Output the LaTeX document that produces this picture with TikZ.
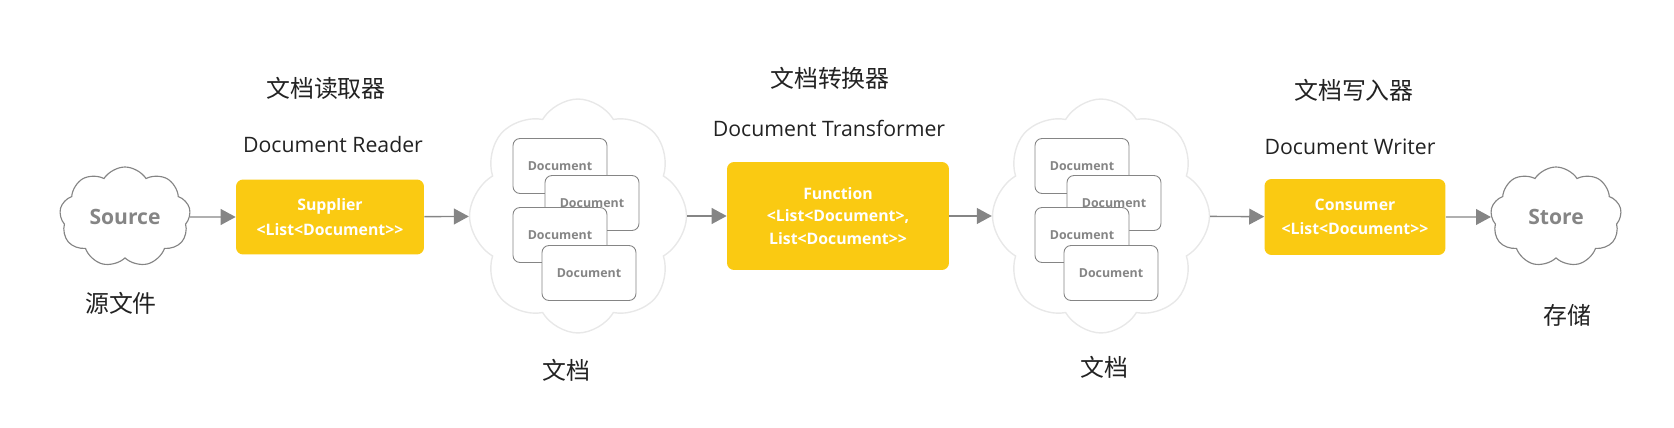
\documentclass[tikz,border=0pt]{standalone}
\usepackage{fontspec}
\setmainfont{Open Sans}
\newfontfamily\cjkfont{Noto Sans CJK SC}
\usetikzlibrary{shapes.symbols,arrows.meta}
\definecolor{flowyellow}{HTML}{FACA12}
\definecolor{flowgray}{HTML}{858585}
\definecolor{cloudpale}{HTML}{E8E8E8}
\definecolor{labeldark}{HTML}{222222}

\begin{document}
\begin{tikzpicture}[
    x=0.02cm, y=-0.02cm,
    stage/.style={fill=flowyellow, rounded corners=4pt, inner sep=0pt, align=center,
      text=white, font=\fontsize{9}{14}\selectfont\bfseries},
    doc/.style={draw=flowgray, fill=white, line width=0.5pt, rounded corners=4pt, inner sep=0pt,
      minimum width=1.88cm, minimum height=1.1cm, text=flowgray,
      font=\fontsize{7.05}{9}\selectfont\bfseries},
    smallcloud/.style={cloud, cloud puffs=9, cloud puff arc=115, cloud ignores aspect, draw=flowgray, line width=0.65pt,
      inner sep=0pt, minimum width=2.62cm, minimum height=2cm, text=flowgray,
      font=\fontsize{12}{13}\selectfont\bfseries},
    bigcloud/.style={cloud, cloud puffs=8, cloud puff arc=120, cloud ignores aspect, draw=cloudpale, line width=0.8pt,
      inner sep=0pt, minimum width=4.34cm, minimum height=4.68cm},
    zh/.style={text=labeldark, font=\fontsize{13.6}{15}\cjkfont},
    en/.style={text=labeldark, font=\fontsize{12.1}{14}\selectfont},
    flow/.style={draw=flowgray, line width=0.8pt, -{Triangle[length=8.5pt,width=9pt]}},
  ]
  \useasboundingbox (0,0) rectangle (1674,428);

  % clouds at both ends
  \node[smallcloud] (source) at (125,217) {Source};
  \node[smallcloud] (store) at (1556,217) {Store};

  % the three stages
  \node[stage, minimum width=3.76cm, minimum height=1.5cm] (reader) at (330,217)
    {Supplier\\ <List<Document>{}>};
  \node[stage, minimum width=4.44cm, minimum height=2.16cm,
    font=\fontsize{9}{12.8}\selectfont\bfseries] (transformer) at (838,216)
    {Function\\ <List<Document>,\\ List<Document>{}>};
  \node[stage, minimum width=3.62cm, minimum height=1.52cm] (writer) at (1355,217)
    {Consumer\\ <List<Document>{}>};

  % document piles
  \node[bigcloud] (docsa) at (578,216) {};
  \node[doc] (da1) at (560,166) {Document};
  \node[doc] (da2) at (592,203) {Document};
  \node[doc] (da3) at (560,235) {Document};
  \node[doc] (da4) at (589,273) {Document};
  \node[bigcloud] (docsb) at (1101,216) {};
  \node[doc] (db1) at (1082,166) {Document};
  \node[doc] (db2) at (1114,203) {Document};
  \node[doc] (db3) at (1082,235) {Document};
  \node[doc] (db4) at (1111,273) {Document};

  % connectors
  \draw[flow] (source) -- (reader);
  \draw[flow] (reader) -- (docsa);
  \draw[flow] (docsa) -- (transformer);
  \draw[flow] (transformer) -- (docsb);
  \draw[flow] (docsb) -- (writer);
  \draw[flow] (writer) -- (store);

  % titles
  \node[zh] (readerzh) at (326,88) {文档读取器};
  \node[en] (readeren) at (333,145) {Document Reader};
  \node[zh] (transformerzh) at (830,78) {文档转换器};
  \node[en] (transformeren) at (829,128) {Document Transformer};
  \node[zh] (writerzh) at (1354,90) {文档写入器};
  \node[en] (writeren) at (1350,147) {Document Writer};
  \node[zh] (sourcezh) at (121,303) {源文件};
  \node[zh] (docsazh) at (566,370) {文档};
  \node[zh] (docsbzh) at (1104,367) {文档};
  \node[zh] (storezh) at (1567,315) {存储};
\end{tikzpicture}
\end{document}
